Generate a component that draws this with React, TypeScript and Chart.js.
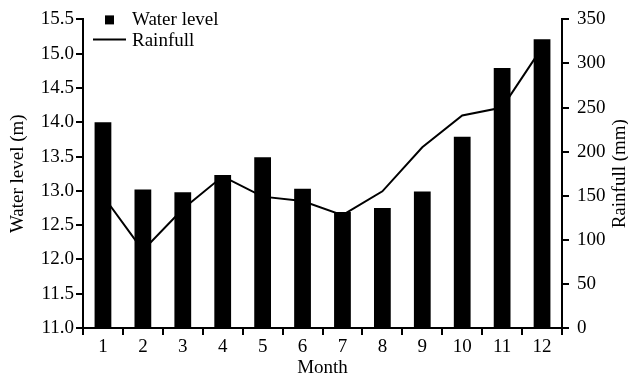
import React, { useEffect, useRef } from "react";
import { Chart, registerables } from "chart.js";

Chart.register(...registerables);

const months = ["1", "2", "3", "4", "5", "6", "7", "8", "9", "10", "11", "12"];
const waterLevel = [14.0, 13.02, 12.98, 13.23, 13.49, 13.03, 12.69, 12.75, 12.99, 13.79, 14.79, 15.21];
const rainfall = [150, 88, 135, 172, 149, 144, 128, 155, 205, 241, 250, 318];
const waterLabel = "Water level";
const rainLabel = "Rainfull";
const leftTitle = "Water level (m)";
const rightTitle = "Rainfull (mm)";
const xTitle = "Month";

const FONT = "'Liberation Serif', 'Times New Roman', serif";
const FS = 19;

const overlayPlugin = {
  id: "overlay",
  afterDraw(chart: any) {
    const { ctx, chartArea } = chart;
    const { left, right, top, bottom } = chartArea;
    ctx.save();
    ctx.fillStyle = "#000";
    ctx.strokeStyle = "#000";
    ctx.font = `${FS}px ${FONT}`;
    ctx.textBaseline = "middle";
    ctx.textAlign = "left";
    // legend
    ctx.fillRect(left + 22, top - 4, 9, 9);
    ctx.fillText(waterLabel, left + 49, top + 1);
    ctx.lineWidth = 2;
    ctx.beginPath();
    ctx.moveTo(left + 10, top + 20);
    ctx.lineTo(left + 43, top + 20);
    ctx.stroke();
    ctx.fillText(rainLabel, left + 49, top + 22);
    // axis titles
    const midY = (top + bottom) / 2;
    ctx.textAlign = "center";
    ctx.save();
    ctx.translate(18, midY);
    ctx.rotate(-Math.PI / 2);
    ctx.fillText(leftTitle, 0, 0);
    ctx.restore();
    ctx.save();
    ctx.translate(right + 58, midY);
    ctx.rotate(-Math.PI / 2);
    ctx.fillText(rightTitle, 0, 0);
    ctx.restore();
    ctx.fillText(xTitle, (left + right) / 2, bottom + 40);
    ctx.restore();
  },
};

export default function App() {
  const ref = useRef<HTMLCanvasElement>(null);
  useEffect(() => {
    if (!ref.current) return;
    const font = { family: FONT, size: FS };
    const gridCommon = {
      drawOnChartArea: false,
      drawTicks: true,
      tickLength: 7,
      color: "#000",
      lineWidth: 2,
    };
    const chart = new Chart(ref.current, {
      type: "bar",
      data: {
        labels: months,
        datasets: [
          {
            type: "line",
            label: rainLabel,
            data: rainfall,
            yAxisID: "y1",
            borderColor: "#000",
            borderWidth: 2,
            pointRadius: 0,
            tension: 0,
            order: 1,
          } as any,
          {
            type: "bar",
            label: waterLabel,
            data: waterLevel,
            yAxisID: "y",
            backgroundColor: "#000",
            barPercentage: 0.42,
            categoryPercentage: 1,
            order: 2,
          },
        ],
      },
      options: {
        responsive: false,
        animation: false,
        layout: { padding: { top: 14, left: 0, right: 0, bottom: 0 } },
        plugins: { legend: { display: false }, tooltip: { enabled: false } },
        scales: {
          x: {
            offset: true,
            grid: { ...gridCommon, offset: true },
            border: { color: "#000", width: 2 },
            ticks: { color: "#000", font, padding: 1, maxRotation: 0 },
            afterFit(s: any) {
              s.height = 51;
            },
          },
          y: {
            position: "left",
            min: 11,
            max: 15.5,
            grid: gridCommon,
            border: { color: "#000", width: 2 },
            ticks: {
              color: "#000",
              font,
              stepSize: 0.5,
              padding: 2,
              callback: (v: any) => Number(v).toFixed(1),
            },
            afterFit(s: any) {
              s.width = 83;
            },
          },
          y1: {
            position: "right",
            min: 0,
            max: 350,
            grid: gridCommon,
            border: { color: "#000", width: 2 },
            ticks: { color: "#000", font, stepSize: 50, padding: 8 },
            afterFit(s: any) {
              s.width = 66;
            },
          },
        },
      } as any,
      plugins: [overlayPlugin],
    });
    return () => chart.destroy();
  }, []);
  return (
    <div style={{ position: "fixed", left: 0, top: 0, width: 628, height: 379, background: "#fff" }}>
      <canvas ref={ref} width={628} height={379} style={{ display: "block" }} />
    </div>
  );
}
